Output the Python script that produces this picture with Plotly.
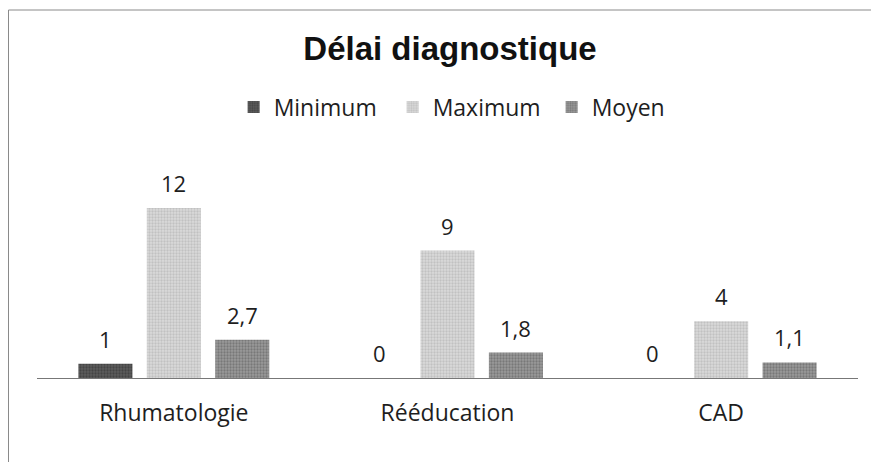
import plotly.graph_objects as go

categories = ['Rhumatologie', 'Rééducation', 'CAD']
minimum = [1, 0, 0]
maximum = [12, 9, 4]
moyen = [2.7, 1.8, 1.1]

_FONT = 'Open Sans, Lato, sans-serif'
_TEXT = '#1e1e1e'

# page body has an 8px margin, so the figure is drawn 8px smaller
W, H = 871, 454
L, R, T, B = 29, 21, 142, 84
plot_w = W - L - R
plot_h = H - T - B
BARGAP = 0.25

fig = go.Figure()
series = [
    ('Minimum', minimum, '#5c5c5c', '#2c2c2c'),
    ('Maximum', maximum, '#dadada', '#a8a8a8'),
    ('Moyen', moyen, '#9a9a9a', '#565656'),
]
for name, vals, bg, fg in series:
    fig.add_trace(go.Bar(
        x=categories, y=vals, name=name,
        marker=dict(color=bg, line=dict(width=0),
                    pattern=dict(shape='.', size=3, solidity=0.45,
                                 fgcolor=fg, bgcolor=bg)),
        hoverinfo='x+y',
    ))

# value labels above the bars
slot = plot_w / len(categories) * (1 - BARGAP) / len(series)
for i, (name, vals, bg, fg) in enumerate(series):
    for cat, v in zip(categories, vals):
        fig.add_annotation(
            x=cat, y=v, text=f'{v}'.replace('.', ','), showarrow=False,
            xshift=(i - 1) * slot, yanchor='bottom', yshift=8,
            font=dict(size=22, family=_FONT, color=_TEXT))

fig.update_layout(
    width=W, height=H,
    paper_bgcolor='white', plot_bgcolor='white',
    barmode='group', bargap=BARGAP, bargroupgap=0.21,
    margin=dict(l=L, r=R, t=T, b=B),
    title=dict(text='<b>Délai diagnostique</b>', x=(450 - 8) / W, xanchor='center',
               y=1 - 40 / H, yanchor='middle',
               font=dict(size=33, family='Liberation Sans, Arial', color='#111111')),
    legend=dict(orientation='h', x=0.53, xanchor='center',
                y=1 + (T - 99) / plot_h, yanchor='middle',
                font=dict(size=23, family=_FONT, color=_TEXT),
                itemwidth=30, tracegroupgap=0, entrywidth=114),
    font=dict(family=_FONT, color=_TEXT),
)
fig.update_xaxes(showline=True, linecolor='#777777', linewidth=1, ticks='',
                 tickfont=dict(size=23, family=_FONT, color=_TEXT),
                 ticklabelstandoff=14, showgrid=False)
fig.update_yaxes(range=[0, 16.1], visible=False, showgrid=False)

# chart frame (top and left edges visible in the scan)
fig.add_shape(type='rect', xref='paper', yref='paper',
              x0=(0.5 - L) / plot_w, x1=(W + 20 - L) / plot_w,
              y0=-(B + 20) / plot_h, y1=1 + (T - 2) / plot_h,
              line=dict(color='#8a8a8a', width=1), layer='below')

fig.write_html('out.html')
